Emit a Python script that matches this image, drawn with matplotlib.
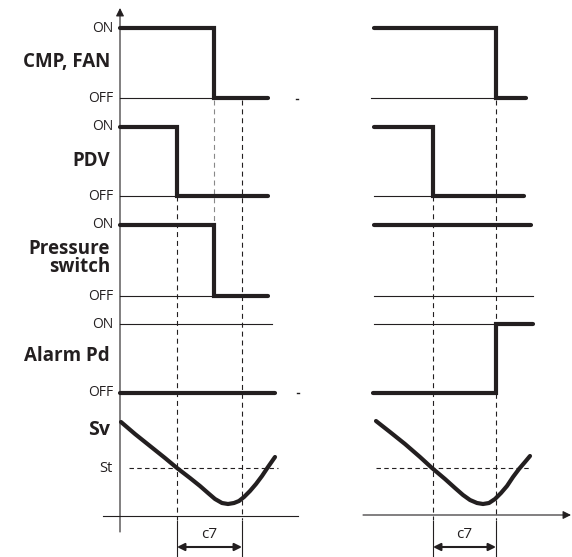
import matplotlib
matplotlib.use("Agg")
import matplotlib.pyplot as plt

# ---------------- data (schematic timing diagram, pixel-space units) ----------------
FONT = ["Open Sans", "DejaVu Sans"]
INK = "#231f20"

# row levels: (ON y, OFF y)
row_names = ["CMP, FAN", "PDV", "Pressure\nswitch", "Alarm Pd"]
row_on = [28, 127, 225, 324]
row_off = [98, 196, 296, 393]
row_label_y = [62, 161, 258, 356]

# step signals (x breakpoints, state 1=ON 0=OFF) -- left panel
left_cmp_x = [120, 214, 214, 268]
left_cmp_s = [1, 1, 0, 0]
left_pdv_x = [120, 177, 177, 268]
left_pdv_s = [1, 1, 0, 0]
left_ps_x = [120, 214, 214, 268]
left_ps_s = [1, 1, 0, 0]
left_alarm_x = [120, 275]
left_alarm_s = [0, 0]

# step signals -- right panel
right_cmp_x = [374, 496, 496, 526]
right_cmp_s = [1, 1, 0, 0]
right_pdv_x = [374, 433, 433, 524]
right_pdv_s = [1, 1, 0, 0]
right_ps_x = [374, 531]
right_ps_s = [1, 1]
right_alarm_x = [373, 496, 496, 533]
right_alarm_s = [0, 0, 1, 1]

# thin reference lines: (row index, level, x start, x end)
left_thin = [(0, 0, 120, 214), (1, 0, 120, 177), (2, 0, 120, 214), (3, 1, 120, 272)]
right_thin = [(0, 0, 371, 496), (1, 0, 374, 433), (2, 0, 374, 533), (3, 1, 374, 496)]

# Sv curve points
left_sv_x = [121, 135, 150, 165, 177, 190, 200, 208, 215, 222, 228, 234, 239, 244, 250, 256, 262, 268, 275]
left_sv_y = [422, 434, 446, 458, 468, 478, 486, 493, 499, 503, 504, 503, 501, 497, 491, 484, 476, 467, 457]
right_sv_x = [376, 390, 405, 420, 432, 445, 455, 463, 470, 477, 483, 489, 495, 501, 507, 513, 519, 525, 530]
right_sv_y = [421, 432, 444, 457, 468, 479, 488, 495, 500, 503, 504, 503, 499, 493, 486, 477, 469, 462, 456]
st_y = 468
sv_label_y = 430

# timing markers
left_t1, left_t2, left_tc = 177, 242, 214
right_t1, right_t2 = 433, 496

# ---------------- figure ----------------
fig = plt.figure(figsize=(5.72, 5.57), dpi=100)
ax = fig.add_axes([0, 0, 1, 1])
ax.set_xlim(0, 572)
ax.set_ylim(557, 0)
ax.axis("off")

THICK = 3.0
THIN = 0.8


def level_y(row, s):
    return row_on[row] if s == 1 else row_off[row]


def step(xs, ss, row):
    ys = [level_y(row, s) for s in ss]
    ax.plot(xs, ys, color=INK, lw=THICK, solid_capstyle="round", solid_joinstyle="miter", zorder=3)


for row, (xs, ss) in enumerate([(left_cmp_x, left_cmp_s), (left_pdv_x, left_pdv_s),
                                 (left_ps_x, left_ps_s), (left_alarm_x, left_alarm_s)]):
    step(xs, ss, row)
for row, (xs, ss) in enumerate([(right_cmp_x, right_cmp_s), (right_pdv_x, right_pdv_s),
                                 (right_ps_x, right_ps_s), (right_alarm_x, right_alarm_s)]):
    step(xs, ss, row)

for row, s, x0, x1 in left_thin + right_thin:
    y = level_y(row, s)
    ax.plot([x0, x1], [y, y], color=INK, lw=THIN, zorder=2)

# Sv curves
ax.plot(left_sv_x, left_sv_y, color=INK, lw=THICK, solid_capstyle="round", solid_joinstyle="round", zorder=3)
ax.plot(right_sv_x, right_sv_y, color=INK, lw=THICK, solid_capstyle="round", solid_joinstyle="round", zorder=3)

# St dashed lines
ax.plot([129, 278], [st_y, st_y], color=INK, lw=THIN, dashes=(4, 3), zorder=2)
ax.plot([376, 530], [st_y, st_y], color=INK, lw=THIN, dashes=(4, 3), zorder=2)

# vertical dashed lines
DASH = (4.5, 3.5)
ax.plot([left_t1, left_t1], [row_off[1], 520], color=INK, lw=THIN, dashes=DASH, zorder=1)
ax.plot([left_t2, left_t2], [row_off[0] + 2, 520], color=INK, lw=THIN, dashes=DASH, zorder=1)
ax.plot([left_tc, left_tc], [row_off[0] + 2, row_on[2]], color="#888888", lw=THIN, dashes=DASH, zorder=1)
ax.plot([right_t1, right_t1], [row_off[1], 520], color=INK, lw=THIN, dashes=DASH, zorder=1)
ax.plot([right_t2, right_t2], [row_off[0] + 2, 520], color=INK, lw=THIN, dashes=DASH, zorder=1)

# axes
ax.annotate("", xy=(120, 8), xytext=(120, 532),
            arrowprops=dict(arrowstyle="-|>", lw=THIN, color=INK, mutation_scale=12,
                            shrinkA=0, shrinkB=0))
ax.plot([103, 298], [516, 516], color=INK, lw=THIN)
ax.annotate("", xy=(571, 515), xytext=(363, 515),
            arrowprops=dict(arrowstyle="-|>", lw=THIN, color=INK, mutation_scale=12,
                            shrinkA=0, shrinkB=0))
# tiny marks
ax.plot([296, 298], [99, 99], color=INK, lw=1.0)
ax.plot([297, 299], [393, 393], color=INK, lw=1.0)

# c7 brackets
for a, b in [(left_t1, left_t2), (right_t1, right_t2)]:
    ax.plot([a, a], [521, 557], color=INK, lw=THIN)
    ax.plot([b, b], [521, 557], color=INK, lw=THIN)
    ax.annotate("", xy=(b, 547), xytext=(a, 547),
                arrowprops=dict(arrowstyle="<|-|>", lw=1.5, color=INK, mutation_scale=11,
                                shrinkA=0, shrinkB=0))
    ax.text((a + b) / 2, 535, "c7", ha="center", va="center", fontsize=11, color=INK, family=FONT)

# labels
SMALL = 10
BIG = 13.5
for i in range(4):
    ax.text(113, row_on[i], "ON", ha="right", va="center", fontsize=SMALL, color=INK, family=FONT)
    ax.text(113, row_off[i], "OFF", ha="right", va="center", fontsize=SMALL, color=INK, family=FONT)
    ax.text(110, row_label_y[i], row_names[i], ha="right", va="center", fontsize=BIG,
            fontweight="bold", color=INK, family=FONT, linespacing=0.85)
ax.text(110, sv_label_y, "Sv", ha="right", va="center", fontsize=BIG + 0.5, fontweight="bold",
        color=INK, family=FONT)
ax.text(112, st_y, "St", ha="right", va="center", fontsize=SMALL + 0.5, color=INK, family=FONT)

fig.savefig("out.png", dpi=100)
